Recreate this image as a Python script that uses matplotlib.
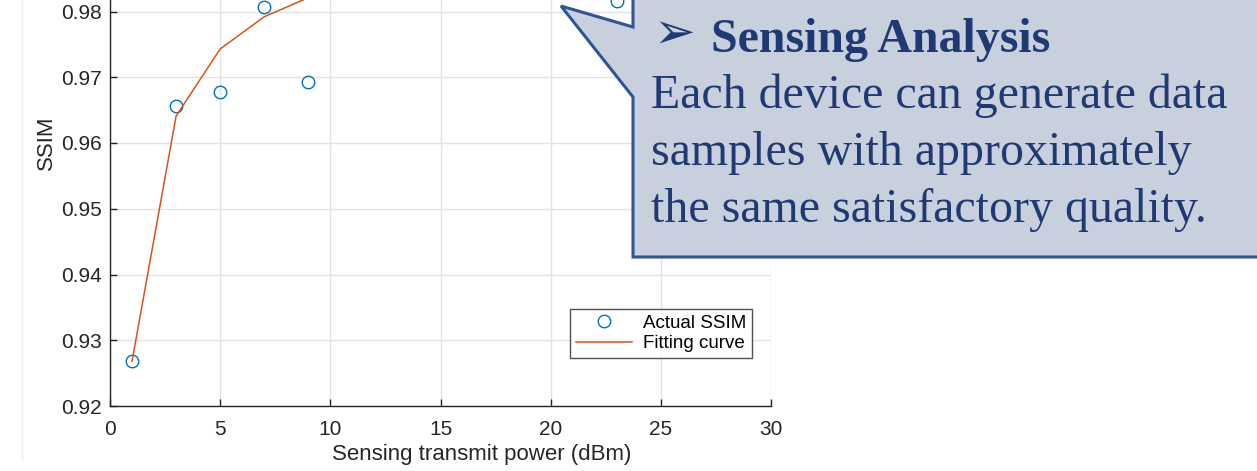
import matplotlib.pyplot as plt
from matplotlib.patches import Polygon
from matplotlib.lines import Line2D

# measured SSIM per sensing transmit power (dBm)
power_pts = [1, 3, 5, 7, 9, 11, 13, 15, 17, 19, 21, 23]
ssim_pts = [0.9268, 0.9657, 0.9678, 0.9807, 0.9693, 0.9850, 0.9870,
            0.9880, 0.9860, 0.9890, 0.9875, 0.9816]

# fitted curve
power_fit = [1, 3, 5, 7, 9, 11, 13, 15, 17, 19, 21, 23]
ssim_fit = [0.9268, 0.9641, 0.9743, 0.9792, 0.9821, 0.9840, 0.9853,
            0.9862, 0.9869, 0.9874, 0.9878, 0.9881]

xticks = [0, 5, 10, 15, 20, 25, 30]
yticks = [0.92, 0.93, 0.94, 0.95, 0.96, 0.97, 0.98]

W, H = 1257, 471
fig = plt.figure(figsize=(W / 100, H / 100), dpi=100)
plt.rcParams['font.family'] = ['Liberation Sans', 'DejaVu Sans']

# axes deliberately runs past the top edge (the reference is cropped)
ax = fig.add_axes([110 / W, (H - 406) / H, 661 / W, (406 + 120) / H])
ax.set_xlim(0, 30)
ax.set_ylim(0.92, 1.0)
ax.set_xticks(xticks)
ax.set_yticks(yticks)
ax.set_yticklabels([f'{v:.2f}' for v in yticks])
ax.grid(True, color='#e3e3e3', linewidth=1)
ax.set_axisbelow(True)
for s in ['top', 'right']:
    ax.spines[s].set_visible(False)
for s in ['left', 'bottom']:
    ax.spines[s].set_color('#262626')
    ax.spines[s].set_linewidth(1)
ax.tick_params(direction='in', length=5, width=1, color='#262626',
               labelsize=15, labelcolor='#262626', pad=6)
ax.tick_params(axis='x', pad=10)

ax.plot(power_pts, ssim_pts, 'o', mfc='none', mec='#0072BD', ms=9,
        mew=1.0, label='Actual SSIM')
ax.plot(power_fit, ssim_fit, '-', color='#D95319', lw=1.1,
        label='Fitting curve')

ax.set_xlabel('Sensing transmit power (dBm)', fontsize=16, color='#262626')
ax.xaxis.set_label_coords((482 - 110) / 661, -(444 - 406) / 526)
ax.set_ylabel('SSIM', fontsize=16, color='#262626', labelpad=3)

leg = ax.legend(loc='lower right', bbox_to_anchor=(1 - 19 / 661, 48 / 526),
                fontsize=13.5, frameon=True, fancybox=False, borderpad=0.3,
                handlelength=3.0, handletextpad=0.6, labelspacing=0.2,
                borderaxespad=0, markerfirst=True)
leg.get_frame().set_edgecolor('#262626')
leg.get_frame().set_linewidth(1)

# faint slide edge at the left
fig.add_artist(Line2D([22 / W, 22 / W], [(H - 460) / H, 1], color='#eeeeee',
                      lw=1, transform=fig.transFigure))


# callout box (pixel coordinates, y from top)
def px(x, y):
    return (x / W, (H - y) / H)


callout = Polygon([px(633, -5), px(1265, -5), px(1265, 257), px(633, 257),
                   px(633, 97), px(561, 6), px(633, 27)],
                  closed=True, transform=fig.transFigure,
                  facecolor='#C9D0DD', edgecolor='#2F5597', lw=2.2, zorder=10)
fig.add_artist(callout)

navy = '#1F3A73'
serif = ['Liberation Serif', 'DejaVu Serif']
fig.text(653 / W, (H - 34) / H, '➢', fontsize=36, color=navy, va='center',
         ha='left', family=['DejaVu Sans'], zorder=11)
fig.text(711 / W, (H - 52) / H, 'Sensing Analysis', fontsize=34.5,
         fontweight='bold', color=navy, va='baseline', ha='left',
         family=serif, zorder=11)
body = ['Each device can generate data',
        'samples with approximately',
        'the same satisfactory quality.']
for i, line in enumerate(body):
    fig.text(651 / W, (H - 108 - 57 * i) / H, line, fontsize=34.5,
             color=navy, va='baseline', ha='left', family=serif, zorder=11)

fig.savefig('out.png', dpi=100)
